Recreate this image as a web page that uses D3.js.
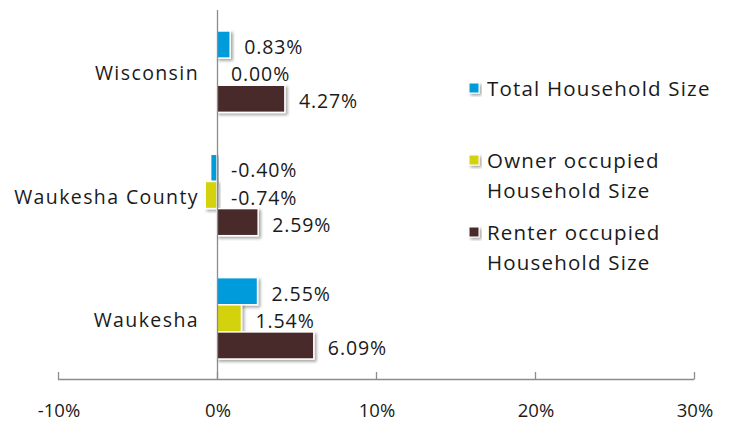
<!DOCTYPE html>
<html>
<head>
<meta charset="utf-8">
<script src="https://cdn.jsdelivr.net/npm/d3@7"></script>
<style>
  body { margin: 0; background: #fff; }
  svg text { font-family: "Open Sans", "Lato", sans-serif; fill: #1a1a1a; font-weight: 400; }
  .cat-label { font-size: 19.5px; letter-spacing: 1.4px; }
  .val-label { font-size: 19.5px; letter-spacing: 0.9px; }
  .tick-label { font-size: 18.5px; letter-spacing: 0px; }
  .legend-text { font-size: 20.5px; letter-spacing: 1.2px; }
</style>
</head>
<body>
<svg id="chart" width="731" height="421"></svg>
<script>
/*** DATA ***/
let categories = ["Wisconsin", "Waukesha County", "Waukesha"];
let total_size  = [0.83, -0.40, 2.55];
let owner_size  = [0.00, -0.74, 1.54];
let renter_size = [4.27, 2.59, 6.09];
let series_names = [["Total Household Size"], ["Owner occupied", "Household Size"], ["Renter occupied", "Household Size"]];
let series_colors = ["#019bdb", "#d4d20f", "#4a2b2c"];
let x_ticks = [-10, 0, 10, 20, 30];

/*** INIT ***/
let svg = d3.select("#chart");

let x = d3.scaleLinear().domain([-10, 30]).range([58, 694]);
let y = d3.scaleBand().domain(categories).range([10, 380]).paddingInner(0.34).paddingOuter(0.17);
let series = [total_size, owner_size, renter_size];
let y_inner = d3.scaleBand().domain(d3.range(series.length)).range([0, y.bandwidth()]);

let defs = svg.append("defs");
let shadow = defs.append("filter").attr("id", "shadow")
    .attr("x", "-20%").attr("y", "-20%").attr("width", "150%").attr("height", "160%");
shadow.append("feDropShadow")
    .attr("dx", 2).attr("dy", 2).attr("stdDeviation", 1.6)
    .attr("flood-color", "#000").attr("flood-opacity", 0.35);

/*** AXES ***/
let axis_y = 379;

svg.append("line")
    .attr("x1", x(-10)).attr("x2", x(30))
    .attr("y1", axis_y + 0.5).attr("y2", axis_y + 0.5)
    .attr("stroke", "#8c8c8c").attr("stroke-width", 1.3);

svg.selectAll("line.xtick")
    .data(x_ticks).enter()
    .append("line")
    .classed("xtick", true)
    .attr("x1", (d) => Math.round(x(d)) + 0.5).attr("x2", (d) => Math.round(x(d)) + 0.5)
    .attr("y1", axis_y - 7).attr("y2", axis_y + 0.5)
    .attr("stroke", "#8c8c8c").attr("stroke-width", 1.3);

svg.selectAll("text.tick-label")
    .data(x_ticks).enter()
    .append("text")
    .classed("tick-label", true)
    .attr("x", (d) => x(d) + 1)
    .attr("y", 416.5)
    .attr("text-anchor", "middle")
    .text((d) => d + "%");

/*** BARS ***/
series.forEach((vals, si) => {
    svg.selectAll("rect.bar-" + si)
        .data(vals).enter()
        .append("rect")
        .attr("class", "bar bar-" + si)
        .attr("x", (d) => x(Math.min(0, d)))
        .attr("y", (d, i) => y(categories[i]) + y_inner(si))
        .attr("width", (d) => Math.abs(x(d) - x(0)))
        .attr("height", y_inner.bandwidth())
        .attr("fill", series_colors[si])
        .attr("stroke", "#fff").attr("stroke-width", 1.5)
        .attr("filter", "url(#shadow)");

    svg.selectAll("text.val-" + si)
        .data(vals).enter()
        .append("text")
        .attr("class", "val-label val-" + si)
        .attr("x", (d) => x(Math.max(0, d)) + 14)
        .attr("y", (d, i) => y(categories[i]) + y_inner(si) + y_inner.bandwidth() / 2 + 2)
        .attr("dominant-baseline", "central")
        .text((d) => d.toFixed(2) + "%");
});

// vertical zero axis drawn over the bars
svg.append("line")
    .attr("x1", Math.round(x(0)) + 0.5).attr("x2", Math.round(x(0)) + 0.5)
    .attr("y1", 10).attr("y2", axis_y + 0.5)
    .attr("stroke", "#8c8c8c").attr("stroke-width", 1.3);

/*** CATEGORY LABELS ***/
svg.selectAll("text.cat-label")
    .data(categories).enter()
    .append("text")
    .classed("cat-label", true)
    .attr("x", 199)
    .attr("y", (d) => y(d) + y.bandwidth() / 2 + 1)
    .attr("text-anchor", "end")
    .attr("dominant-baseline", "central")
    .text((d) => d);

/*** LEGEND ***/
let legend_y = [88, 160, 232];
let legend = svg.append("g").classed("legend", true);

series_names.forEach((lines, si) => {
    legend.append("rect")
        .attr("x", 469).attr("y", legend_y[si] - 5)
        .attr("width", 10).attr("height", 10)
        .attr("fill", series_colors[si])
        .attr("stroke", "#fff").attr("stroke-width", 1)
        .attr("filter", "url(#shadow)");

    lines.forEach((ln, li) => {
        legend.append("text")
            .classed("legend-text", true)
            .attr("x", 487)
            .attr("y", legend_y[si] + li * 30)
            .attr("dominant-baseline", "central")
            .text(ln);
    });
});
</script>
</body>
</html>
